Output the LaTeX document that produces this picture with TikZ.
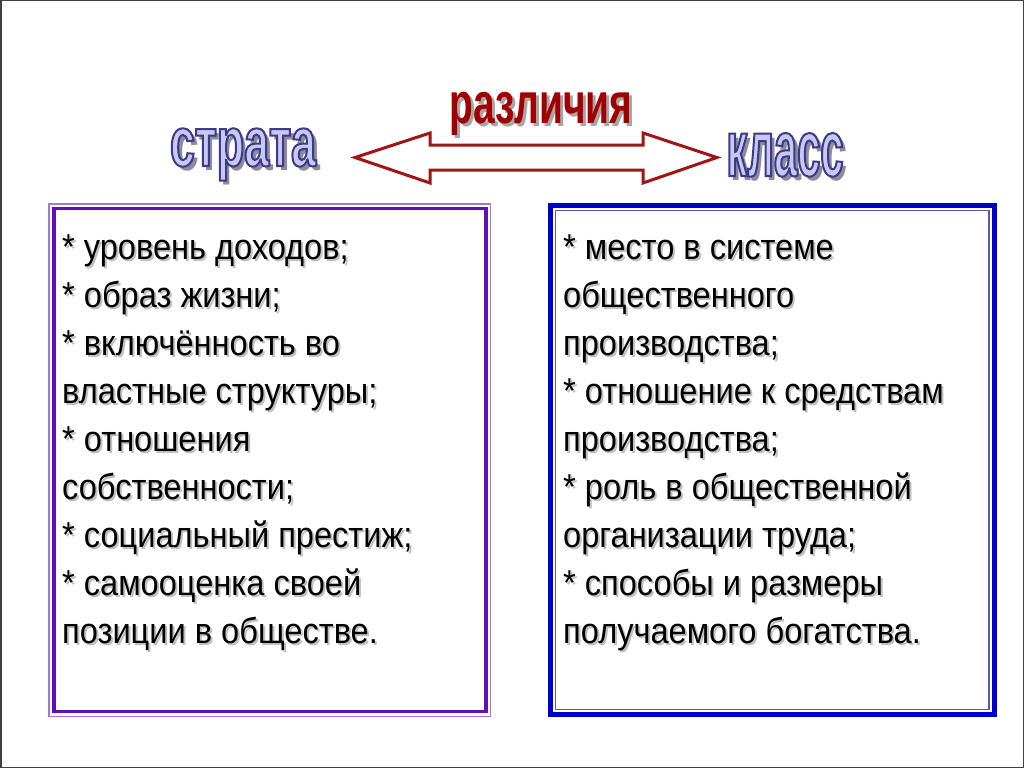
\documentclass[tikz,border=0pt]{standalone}
\usepackage{fontspec}
\setmainfont{Liberation Sans}
\newfontfamily\itemfnt[FakeStretch=0.905]{Liberation Sans}
\newfontfamily\razfnt[FakeStretch=0.67]{Liberation Sans Bold}
\newfontfamily\strfnt[FakeStretch=0.64]{Liberation Sans Bold}
\newfontfamily\klsfnt[FakeStretch=0.52]{Liberation Sans Bold}
\definecolor{aa1515}{HTML}{A01515}
\definecolor{a20000}{HTML}{A20000}
\definecolor{a277dd}{HTML}{A277DD}
\definecolor{6010b8}{HTML}{6010B8}
\definecolor{0000cc}{HTML}{0000CC}
\definecolor{5555cc}{HTML}{5555CC}
\definecolor{c8c8f0}{HTML}{C8C8F0}
\definecolor{8c8c9c}{HTML}{8C8C9C}
\definecolor{c0c0c0}{HTML}{C0C0C0}
\tikzset{
  item/.style={anchor=base west,inner sep=0pt,font=\fontsize{36}{40}\itemfnt},
  itemshadow/.style={item,text=c0c0c0},
  wa/.style={anchor=base,inner sep=0pt},
}
% outlined letters: stroke and fill
\newcommand{\outl}[1]{\special{pdf:code q 2 Tr 2 w 0.23 0.23 0.54 RG}#1\special{pdf:code Q}}
% word art: name, position, font, text
\newcommand{\wordart}[4]{%
  \node[wa,text=8c8c9c,xshift=4pt,yshift=-4pt] at #2 {#3#4};
  \node[wa,text=c8c8f0] (#1) at #2 {#3\outl{#4}};
}
\begin{document}
\begin{tikzpicture}[x=1pt,y=-1pt,line join=miter]
\useasboundingbox (0,0) rectangle (1024,768);
\draw[line width=1.5pt,color=black!75] (0.75,0.75) rectangle (1023.25,767.25);
% titles
\node[wa,text=gray!70,xshift=3pt,yshift=-3pt] at (541,123) {\fontsize{58}{58}\razfnt различия};
\node[wa,text=a20000] (raz) at (541,123) {\fontsize{58}{58}\razfnt различия};
\wordart{strata}{(243,166)}{\fontsize{70}{70}\strfnt}{страта}
\wordart{klass}{(785,176)}{\fontsize{80}{80}\klsfnt}{класс}
% double arrow
\draw[line width=3pt,color=aa1515,fill=white]
  (355,157.5) -- (430,133) -- (430,145) -- (643,145) -- (643,133) -- (717,157.5)
  -- (643,183) -- (643,170) -- (430,170) -- (430,183) -- cycle;
% left box
\draw[line width=1.5pt,color=a277dd] (48.75,203.75) rectangle (490.25,716.25);
\draw[line width=3.5pt,color=6010b8] (54,208.5) rectangle (486,711.5);
% right box
\draw[line width=5pt,color=0000cc] (550.5,205.5) rectangle (994,714.5);
\draw[line width=1.2pt,color=5555cc] (555.5,210.5) rectangle (989,709.5);
% left items
\foreach \t [count=\i] in {{* уровень доходов;},{* образ жизни;},{* включённость во},
  {властные структуры;},{* отношения},{собственности;},{* социальный престиж;},
  {* самооценка своей},{позиции в обществе.}}{
  \node[itemshadow] at (64,{261+48*(\i-1)}) {\t};
  \node[item] (L\i) at (62,{259+48*(\i-1)}) {\t};
}
% right items
\foreach \t [count=\i] in {{* место в системе},{общественного},{производства;},
  {* отношение к средствам},{производства;},{* роль в общественной},
  {организации труда;},{* способы и размеры},{получаемого богатства.}}{
  \node[itemshadow] at (565,{261+48*(\i-1)}) {\t};
  \node[item] (R\i) at (563,{259+48*(\i-1)}) {\t};
}
\end{tikzpicture}
\end{document}
